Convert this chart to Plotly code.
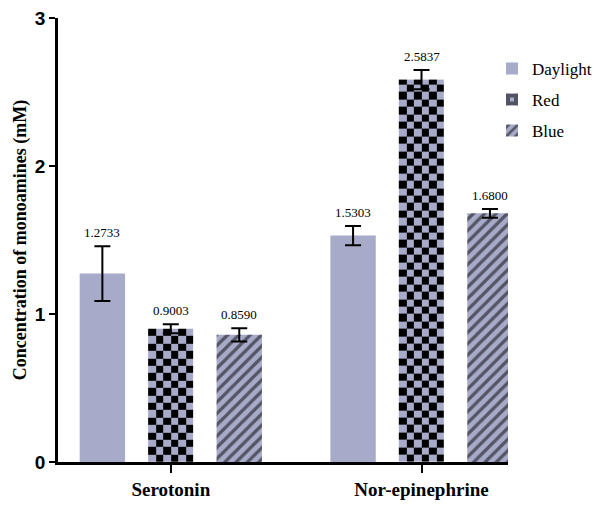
import numpy as np
import plotly.graph_objects as go

# ---------------- data ----------------
categories = ["Serotonin", "Nor-epinephrine"]
series_names = ["Daylight", "Red", "Blue"]
daylight = [1.2733, 1.5303]
red = [0.9003, 2.5837]
blue = [0.8590, 1.6800]
daylight_err = [0.185, 0.065]
red_err = [0.03, 0.065]
blue_err = [0.045, 0.03]
y_ticks = [0, 1, 2, 3]

# ---------------- style ----------------
LAV = "#A7AAC8"
BAR_W = 0.181
STEP = 0.273
CHECK_COLS = 6
CHECK_H = 0.05
SERIF = "Liberation Serif, Times New Roman, serif"
SANS = "Liberation Sans, Arial, sans-serif"

W, H = 594, 529
ML, MR = 58, 4
PLOT_RIGHT = 508
inner_w = W - ML - MR
x_dom_end = (PLOT_RIGHT - ML) / inner_w
legend_x = (492 - ML) / inner_w

xi = np.arange(len(categories), dtype=float)
offsets = {"Daylight": -STEP, "Red": 0.0, "Blue": STEP}
values = {"Daylight": daylight, "Red": red, "Blue": blue}
errors = {"Daylight": daylight_err, "Red": red_err, "Blue": blue_err}

fig = go.Figure()

# checkerboard fill for the Red bars (heatmap cells built from the bar values)
for i, v in enumerate(red):
    cx = xi[i] + offsets["Red"]
    xe = np.linspace(cx - BAR_W / 2, cx + BAR_W / 2, CHECK_COLS + 1)
    ye = np.arange(0, v, CHECK_H)
    ye = np.append(ye, v)
    nr = len(ye) - 1
    z = [[(r + c) % 2 for c in range(CHECK_COLS)] for r in range(nr)]
    fig.add_trace(go.Heatmap(
        x=xe, y=ye, z=z, zmin=0, zmax=1,
        colorscale=[[0, LAV], [1, "black"]], showscale=False,
        hoverinfo="skip", showlegend=False))

err_style = dict(type="data", color="black", thickness=2, width=8)

# Daylight
fig.add_trace(go.Bar(
    x=xi + offsets["Daylight"], y=daylight, width=BAR_W, name="Daylight",
    marker=dict(color=LAV, line=dict(width=0)),
    error_y=dict(array=daylight_err, **err_style), legendgroup="d"))

# Red (transparent bar carrying error bars; checker drawn by heatmap)
fig.add_trace(go.Bar(
    x=xi + offsets["Red"], y=red, width=BAR_W, name="Red", showlegend=False,
    marker=dict(color="rgba(0,0,0,0)", line=dict(width=0)),
    error_y=dict(array=red_err, **err_style)))
# legend entry for Red
fig.add_trace(go.Bar(
    x=[0], y=[0], width=0.0001, name="Red", legendgroup="r",
    marker=dict(color=LAV, line=dict(width=0),
                pattern=dict(shape="+", fgcolor="black", bgcolor=LAV,
                             size=12, solidity=0.75)),
    hoverinfo="skip"))

# Blue
fig.add_trace(go.Bar(
    x=xi + offsets["Blue"], y=blue, width=BAR_W, name="Blue",
    marker=dict(color=LAV, line=dict(width=0),
                pattern=dict(shape="/", fgcolor="black", bgcolor=LAV,
                             size=8, solidity=0.4)),
    error_y=dict(array=blue_err, **err_style), legendgroup="b"))

# value labels
for s in series_names:
    for i, v in enumerate(values[s]):
        fig.add_annotation(
            x=xi[i] + offsets[s], y=v + errors[s][i], text=f"{v:.4f}",
            showarrow=False, yanchor="bottom", yshift=4,
            font=dict(family=SERIF, size=13, color="black"))

fig.update_layout(
    width=W, height=H,
    margin=dict(l=ML, r=MR, t=18, b=67, autoexpand=False),
    barmode="overlay",
    plot_bgcolor="white", paper_bgcolor="white",
    showlegend=True,
    legend=dict(x=legend_x, y=0.926, xanchor="left", yanchor="top",
                font=dict(family=SERIF, size=17, color="black"),
                tracegroupgap=6, bgcolor="rgba(0,0,0,0)",
                itemwidth=30),
    xaxis=dict(
        domain=[0, x_dom_end],
        range=[-0.45, 1.345], tickmode="array", tickvals=xi,
        ticktext=[f"<b>{c}</b>" for c in categories],
        tickfont=dict(family=SERIF, size=19, color="black"),
        showline=True, linecolor="black", linewidth=2.5,
        ticks="outside", ticklen=8, tickwidth=2, tickcolor="black",
        showgrid=False, zeroline=False),
    yaxis=dict(
        range=[0, 3], tickmode="array", tickvals=y_ticks,
        ticktext=[f"<b>{t}</b>" for t in y_ticks],
        tickfont=dict(family=SANS, size=19, color="black"),
        showline=True, linecolor="black", linewidth=2.5,
        ticks="outside", ticklen=6, tickwidth=2, tickcolor="black",
        showgrid=False, zeroline=False,
        title=dict(text="<b>Concentration of monoamines (mM)</b>",
                   font=dict(family=SERIF, size=18, color="black"),
                   standoff=4)),
)

fig.write_html("out.html")
